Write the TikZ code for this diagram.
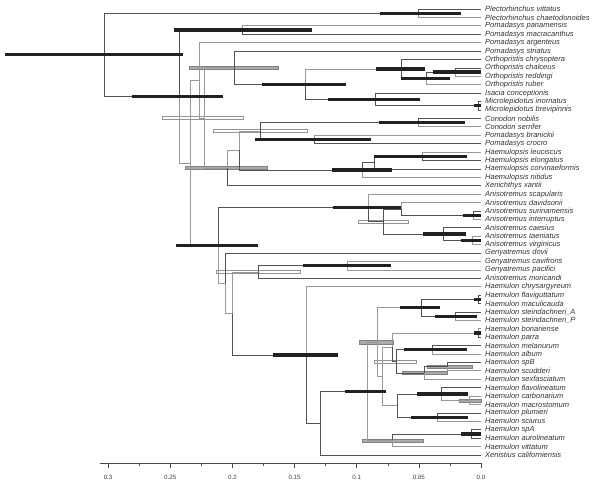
\documentclass[tikz,border=0pt]{standalone}
\usepackage{fontspec}
\setmainfont{Liberation Sans}
\newcommand\tipfont{\fontsize{7.5}{8}\selectfont\itshape}
\newcommand\gsp{\hspace{2.2pt}}
\begin{document}
\begin{tikzpicture}[x=1pt,y=-1pt]
\tikzset{
  br/.style={draw=black!68, line width=0.7pt},
  brl/.style={draw=black!40, line width=0.7pt},
  cib/.style={fill=black!87, draw=none},
  cig/.style={fill=black!33, draw=black!50, line width=0.4pt},
  cio/.style={fill=white, draw=black!42, line width=0.5pt},
  tiplab/.style={anchor=west, font=\tipfont, text=black!80, inner sep=0pt},
  axlab/.style={font=\fontsize{6.2}{7}\selectfont, text=black!75, inner sep=0pt},
}
\newcommand\cibar[4]{\path[#1] (#2,{#4-1.6}) rectangle (#3,{#4+1.6});}
\useasboundingbox (0,0) rectangle (600,481);
% tips
\foreach \i/\y/\lab in {
 1/9.0/Plectorhinchus\gsp vittatus, 2/17.4/Plectorhinchus\gsp chaetodonoides,
 3/25.8/Pomadasys\gsp panamensis, 4/34.2/Pomadasys\gsp macracanthus,
 5/42.7/Pomadasys\gsp argenteus, 6/51.1/Pomadasys\gsp striatus,
 7/59.5/Orthopristis\gsp chrysoptera, 8/67.9/Orthopristis\gsp chalceus,
 9/76.3/Orthopristis\gsp reddingi, 10/84.7/Orthopristis\gsp ruber,
 11/93.2/Isacia\gsp conceptionis, 12/101.6/Microlepidotus\gsp inornatus,
 13/110.0/Microlepidotus\gsp brevipinnis, 14/118.4/Conodon\gsp nobilis,
 15/126.8/Conodon\gsp serrifer, 16/135.2/Pomadasys\gsp branickii,
 17/143.6/Pomadasys\gsp crocro, 18/152.1/Haemulopsis\gsp leuciscus,
 19/160.5/Haemulopsis\gsp elongatus, 20/168.9/Haemulopsis\gsp corvinaeformis,
 21/177.3/Haemulopsis\gsp nitidus, 22/185.7/Xenichthys\gsp xantii,
 23/194.1/Anisotremus\gsp scapularis, 24/202.5/Anisotremus\gsp davidsonii,
 25/211.0/Anisotremus\gsp surinamensis, 26/219.4/Anisotremus\gsp interruptus,
 27/227.8/Anisotremus\gsp caesius, 28/236.2/Anisotremus\gsp taeniatus,
 29/244.6/Anisotremus\gsp virginicus, 30/253.0/Genyatremus\gsp dovii,
 31/261.5/Genyatremus\gsp cavifrons, 32/269.9/Genyatremus\gsp pacifici,
 33/278.3/Anisotremus\gsp moricandi, 34/286.7/Haemulon\gsp chrysargyreum,
 35/295.1/Haemulon\gsp flaviguttatum, 36/303.5/Haemulon\gsp maculicauda,
 37/311.9/Haemulon\gsp steindachneri\_A, 38/320.4/Haemulon\gsp steindachneri\_P,
 39/328.8/Haemulon\gsp bonariense, 40/337.2/Haemulon\gsp parra,
 41/345.6/Haemulon\gsp melanurum, 42/354.0/Haemulon\gsp album,
 43/362.4/Haemulon\gsp spB, 44/370.8/Haemulon\gsp scudderi,
 45/379.3/Haemulon\gsp sexfasciatum, 46/387.7/Haemulon\gsp flavolineatum,
 47/396.1/Haemulon\gsp carbonarium, 48/404.5/Haemulon\gsp macrostomum,
 49/412.9/Haemulon\gsp plumieri, 50/421.3/Haemulon\gsp sciurus,
 51/429.8/Haemulon\gsp spA, 52/438.2/Haemulon\gsp aurolineatum,
 53/446.6/Haemulon\gsp vittatum, 54/455.0/Xenistius\gsp californiensis}{
  \coordinate (t\i) at (481,\y);
  \node[tiplab] (n\i) at (485,\y) {\lab};
}
% internal nodes
\coordinate (root) at (104,54.9);
\coordinate (PL) at (418,13.2);
\coordinate (A) at (179,96.5);
\coordinate (B) at (242,30.0);
\coordinate (C) at (190,163.0);
\coordinate (D) at (199,80.3);
\coordinate (N) at (204,117.9);
\coordinate (L) at (234,67.7);
\coordinate (M) at (305,84.3);
\coordinate (O) at (401,69.0);
\coordinate (P) at (426,78.4);
\coordinate (Q) at (455,72.1);
\coordinate (R) at (375,99.5);
\coordinate (S) at (478,105.8);
\coordinate (T) at (227,168.1);
\coordinate (U) at (239,150.5);
\coordinate (V) at (260,131.0);
\coordinate (CN) at (418,122.6);
\coordinate (W) at (314,139.4);
\coordinate (Y) at (362,170.0);
\coordinate (X) at (374,162.6);
\coordinate (HL) at (422,156.3);
\coordinate (E) at (218,245.6);
\coordinate (Z1) at (368,207.8);
\coordinate (Z2) at (383,221.5);
\coordinate (Z3) at (401,208.9);
\coordinate (Z5) at (473,215.2);
\coordinate (Z4) at (443,234.1);
\coordinate (Z6) at (472,240.4);
\coordinate (F) at (225,283.3);
\coordinate (G) at (232,313.5);
\coordinate (H) at (258,272.0);
\coordinate (GY) at (347,265.7);
\coordinate (I) at (306,354.9);
\coordinate (J) at (320,423.1);
\coordinate (K) at (367,391.2);
\coordinate (K2) at (377,342.1);
\coordinate (HF) at (421,307.7);
\coordinate (FM) at (478,299.3);
\coordinate (ST) at (455,316.2);
\coordinate (K3) at (382,376.4);
\coordinate (K4) at (392,347.2);
\coordinate (BP) at (478,333.0);
\coordinate (K5) at (396,361.4);
\coordinate (MA) at (432,349.8);
\coordinate (SX) at (424,373.0);
\coordinate (SS) at (447,366.6);
\coordinate (K6) at (397,405.6);
\coordinate (FL) at (441,394.0);
\coordinate (CM) at (469,400.3);
\coordinate (PS) at (437,417.1);
\coordinate (VT) at (392,440.3);
\coordinate (SA) at (471,434.0);
% grey and open CI bars
\cibar{cig}{189}{278}{67.7}
\cibar{cig}{185}{267}{168.1}
\cibar{cig}{359}{393}{342.1}
\cibar{cig}{402}{447}{373.0}
\cibar{cig}{427}{472}{366.6}
\cibar{cig}{459}{481}{400.3}
\cibar{cig}{362}{423}{440.3}
\cibar{cio}{162}{243}{117.9}
\cibar{cio}{213}{307}{131.0}
\cibar{cio}{358}{408}{221.5}
\cibar{cio}{216}{300}{272.0}
\cibar{cio}{374}{416}{361.4}
% branches
\draw[br] (root) |- (PL);
\draw[br] (root) |- (A);
\draw[br] (PL) |- (t1); \draw[brl] (PL) |- (t2);
\draw[br] (A) |- (B); \draw[brl] (A) |- (C);
\draw[brl] (B) |- (t3); \draw[br] (B) |- (t4);
\draw[brl] (C) |- (D); \draw[brl] (C) |- (E);
\draw[brl] (D) |- (t5); \draw[brl] (D) |- (N);
\draw[brl] (N) |- (L); \draw[brl] (N) |- (T);
\draw[br] (L) |- (t6); \draw[br] (L) |- (M);
\draw[brl] (M) |- (O); \draw[br] (M) |- (R);
\draw[br] (O) |- (t7); \draw[br] (O) |- (P);
\draw[br] (P) |- (Q); \draw[brl] (P) |- (t10);
\draw[br] (Q) |- (t8); \draw[brl] (Q) |- (t9);
\draw[br] (R) |- (t11); \draw[br] (R) |- (S);
\draw[br] (S) |- (t12); \draw[br] (S) |- (t13);
\draw[brl] (T) |- (U); \draw[br] (T) |- (t22);
\draw[brl] (U) |- (V); \draw[br] (U) |- (Y);
\draw[br] (V) |- (CN); \draw[br] (V) |- (W);
\draw[br] (CN) |- (t14); \draw[brl] (CN) |- (t15);
\draw[brl] (W) |- (t16); \draw[br] (W) |- (t17);
\draw[br] (Y) |- (X); \draw[brl] (Y) |- (t21);
\draw[br] (X) |- (HL); \draw[br] (X) |- (t20);
\draw[brl] (HL) |- (t18); \draw[br] (HL) |- (t19);
\draw[br] (E) |- (Z1); \draw[brl] (E) |- (F);
\draw[brl] (Z1) |- (t23); \draw[br] (Z1) |- (Z2);
\draw[br] (Z2) |- (Z3); \draw[br] (Z2) |- (Z4);
\draw[brl] (Z3) |- (t24); \draw[br] (Z3) |- (Z5);
\draw[br] (Z5) |- (t25); \draw[brl] (Z5) |- (t26);
\draw[br] (Z4) |- (t27); \draw[br] (Z4) |- (Z6);
\draw[brl] (Z6) |- (t28); \draw[brl] (Z6) |- (t29);
\draw[br] (F) |- (t30); \draw[brl] (F) |- (G);
\draw[brl] (G) |- (H); \draw[br] (G) |- (I);
\draw[br] (H) |- (GY); \draw[br] (H) |- (t33);
\draw[brl] (GY) |- (t31); \draw[brl] (GY) |- (t32);
\draw[brl] (I) |- (t34); \draw[br] (I) |- (J);
\draw[br] (J) |- (K); \draw[br] (J) |- (t54);
\draw[brl] (K) |- (K2); \draw[brl] (K) |- (VT);
\draw[brl] (K2) |- (HF); \draw[brl] (K2) |- (K3);
\draw[br] (HF) |- (FM); \draw[br] (HF) |- (ST);
\draw[br] (FM) |- (t35); \draw[br] (FM) |- (t36);
\draw[br] (ST) |- (t37); \draw[brl] (ST) |- (t38);
\draw[brl] (K3) |- (K4); \draw[brl] (K3) |- (K6);
\draw[brl] (K4) |- (BP); \draw[br] (K4) |- (K5);
\draw[brl] (BP) |- (t39); \draw[br] (BP) |- (t40);
\draw[br] (K5) |- (MA); \draw[br] (K5) |- (SX);
\draw[br] (MA) |- (t41); \draw[brl] (MA) |- (t42);
\draw[br] (SX) |- (SS); \draw[brl] (SX) |- (t45);
\draw[br] (SS) |- (t43); \draw[brl] (SS) |- (t44);
\draw[br] (K6) |- (FL); \draw[br] (K6) |- (PS);
\draw[br] (FL) |- (t46); \draw[brl] (FL) |- (CM);
\draw[brl] (CM) |- (t47); \draw[brl] (CM) |- (t48);
\draw[br] (PS) |- (t49); \draw[brl] (PS) |- (t50);
\draw[br] (VT) |- (SA); \draw[brl] (VT) |- (t53);
\draw[br] (SA) |- (t51); \draw[br] (SA) |- (t52);
% black CI bars
\cibar{cib}{5}{183}{54.9}
\cibar{cib}{380}{461}{13.2}
\cibar{cib}{132}{223}{96.5}
\cibar{cib}{174}{312}{30.0}
\cibar{cib}{262}{346}{84.3}
\cibar{cib}{376}{425}{69.0}
\cibar{cib}{401}{450}{78.4}
\cibar{cib}{433}{481}{72.1}
\cibar{cib}{328}{420}{99.5}
\cibar{cib}{474}{481}{105.8}
\cibar{cib}{255}{371}{139.4}
\cibar{cib}{379}{465}{122.6}
\cibar{cib}{332}{392}{170.0}
\cibar{cib}{374}{467}{156.3}
\cibar{cib}{333}{401}{207.8}
\cibar{cib}{463}{481}{215.2}
\cibar{cib}{423}{466}{234.1}
\cibar{cib}{461}{481}{240.4}
\cibar{cib}{176}{258}{245.6}
\cibar{cib}{303}{391}{265.7}
\cibar{cib}{273}{338}{354.9}
\cibar{cib}{345}{386}{391.2}
\cibar{cib}{400}{440}{307.7}
\cibar{cib}{474}{481}{299.3}
\cibar{cib}{435}{477}{316.2}
\cibar{cib}{474}{481}{333.0}
\cibar{cib}{404}{467}{349.8}
\cibar{cib}{417}{468}{394.0}
\cibar{cib}{411}{468}{417.1}
\cibar{cib}{461}{481}{434.0}
% axis
\coordinate (ax0) at (100,463);
\coordinate (ax1) at (481,463);
\draw[draw=black!70, line width=0.6pt] (ax0) -- (ax1);
\foreach \t/\lab in {0.3/0.3, 0.25/0.25, 0.2/0.2, 0.15/0.15, 0.1/0.1, 0.05/0.05, 0/0.0}{
  \draw[draw=black!70, line width=0.6pt] ({481-\t*1243},463) -- ({481-\t*1243},467.5);
  \node[axlab] at ({481-\t*1243},477.5) {\lab};
}
\foreach \t in {0.275,0.225,0.175,0.125,0.075,0.025}{
  \draw[draw=black!70, line width=0.5pt] ({481-\t*1243},463) -- ({481-\t*1243},465.5);
}
\end{tikzpicture}
\end{document}
